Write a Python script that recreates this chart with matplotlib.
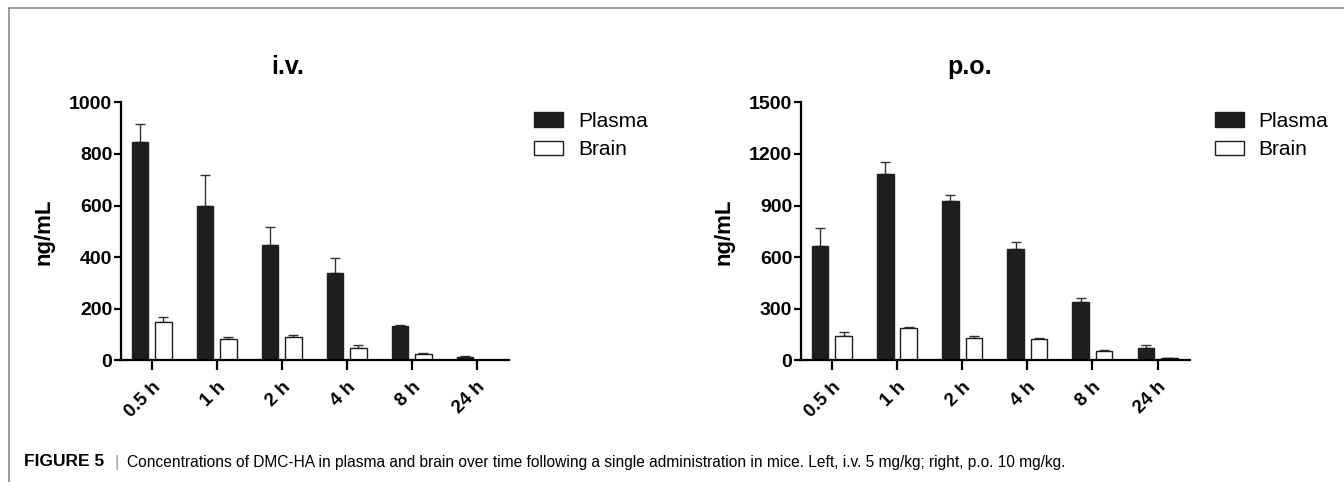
import matplotlib
matplotlib.use("Agg")
from matplotlib import pyplot as plt
from matplotlib.lines import Line2D
from matplotlib.patches import Patch
import numpy as np

# time points and measured means / upper error limits (ng/mL)
times = ["0.5 h", "1 h", "2 h", "4 h", "8 h", "24 h"]

iv_plasma = [845, 599, 448, 340, 134, 13]
iv_plasma_top = [915, 719, 518, 397, 137, 17]
iv_brain = [148, 81, 89, 47, 23, 1]
iv_brain_top = [169, 90, 97, 61, 27, 2]

po_plasma = [666, 1083, 928, 648, 337, 70]
po_plasma_top = [767, 1155, 963, 690, 365, 87]
po_brain = [140, 190, 128, 122, 52, 12]
po_brain_top = [165, 191, 140, 128, 58, 14]

plt.rcParams["font.family"] = ["Liberation Sans", "DejaVu Sans"]

W, H = 1344, 482
fig = plt.figure(figsize=(W / 100, H / 100), dpi=100)


def px_axes(x0, x1, y0, y1):
    # pixel box (top-left origin) -> figure fraction
    return fig.add_axes([x0 / W, 1 - y1 / H, (x1 - x0) / W, (y1 - y0) / H])


def panel(ax, title, plasma, plasma_top, brain, brain_top, ymax, step, title_x, leg_x):
    x = np.arange(len(times))
    bw = 0.255
    off = 0.18
    ax.bar(x - off, plasma, bw, color="#1e1e1e", edgecolor="#1e1e1e", lw=1, zorder=2)
    ax.bar(x + off, brain, bw, color="white", edgecolor="#1e1e1e", lw=1, zorder=2)
    ax.errorbar(x - off, plasma, yerr=[np.zeros(len(x)), np.array(plasma_top) - np.array(plasma)],
                fmt="none", ecolor="#333333", elinewidth=1, capsize=3.5, capthick=1, zorder=1)
    ax.errorbar(x + off, brain, yerr=[np.zeros(len(x)), np.array(brain_top) - np.array(brain)],
                fmt="none", ecolor="#333333", elinewidth=1, capsize=3.5, capthick=1, zorder=1)

    ax.set_xlim(-0.477, 5.497)
    ax.set_ylim(0, ymax)
    ax.set_yticks(np.arange(0, ymax + 1, step))
    ax.set_xticks(x)
    ax.set_xticklabels(times, rotation=45, ha="right", va="top", rotation_mode="anchor",
                       fontsize=13.5, fontweight="bold")
    for lab in ax.get_yticklabels():
        lab.set_fontsize(14)
        lab.set_fontweight("bold")
    for s in ["top", "right"]:
        ax.spines[s].set_visible(False)
    for s in ["left", "bottom"]:
        ax.spines[s].set_linewidth(1.6)
    ax.tick_params(axis="y", length=5, width=1.6, pad=1)
    ax.tick_params(axis="x", length=7, width=1.6, pad=6)
    ax.set_ylabel("ng/mL", fontsize=16, fontweight="bold")
    ax.yaxis.set_label_coords(-0.17, 0.5)

    fig.text(title_x / W, 1 - 67 / H, title, fontsize=18, fontweight="bold",
             ha="center", va="center")

    handles = [Patch(facecolor="#1e1e1e", edgecolor="#1e1e1e", label="Plasma"),
               Patch(facecolor="white", edgecolor="#1e1e1e", label="Brain")]
    fig.legend(handles=handles, loc="upper left", bbox_to_anchor=(leg_x / W, 1 - 112 / H),
               frameon=False, fontsize=15, handlelength=1.4, handleheight=0.7,
               handletextpad=0.7, labelspacing=0.45, borderaxespad=0, borderpad=0)


ax1 = px_axes(120.7, 509, 102.3, 360.3)
panel(ax1, "i.v.", iv_plasma, iv_plasma_top, iv_brain, iv_brain_top, 1000, 200, 288, 534)

ax2 = px_axes(800.7, 1190, 102.3, 360.3)
panel(ax2, "p.o.", po_plasma, po_plasma_top, po_brain, po_brain_top, 1500, 300, 970, 1215)

# page frame lines
fig.add_artist(Line2D([9 / W, 1], [1 - 7.5 / H, 1 - 7.5 / H], color="#8c8c8c", lw=1.2,
                      transform=fig.transFigure))
fig.add_artist(Line2D([9 / W, 9 / W], [0, 1 - 7.5 / H], color="#8c8c8c", lw=1.2,
                      transform=fig.transFigure))

# caption
cy = 1 - 462 / H
fig.text(24 / W, cy, "FIGURE 5", fontsize=12.5, fontweight="bold", ha="left", va="center")
fig.text(114 / W, cy, "|", fontsize=12.5, color="#999999", ha="left", va="center")
fig.text(127 / W, cy, "Concentrations of DMC-HA in plasma and brain over time following a "
         "single administration in mice. Left, i.v. 5 mg/kg; right, p.o. 10 mg/kg.",
         fontsize=11.2, ha="left", va="center")

fig.savefig("out.png", dpi=100)
